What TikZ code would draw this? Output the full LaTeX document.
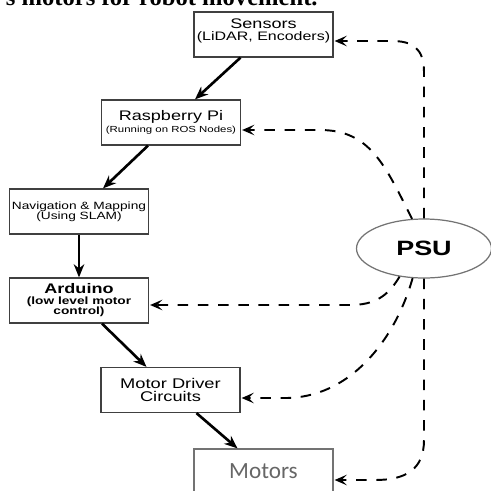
\documentclass[tikz,border=0pt]{standalone}
\usepackage{fontspec}
\setmainfont{Liberation Sans}
\newfontfamily\boxfont[FakeStretch=1.3]{Liberation Sans}
\newfontfamily\motorfont{Carlito}
\newfontfamily\capfont{Liberation Serif}
\newcommand{\subtxt}[1]{\fontsize{#1}{6}\selectfont}
\usepackage{tikz}
\usetikzlibrary{shapes}
\usetikzlibrary{positioning, arrows.meta}
\usetikzlibrary{calc}

\begin{document}
\begin{tikzpicture}[
		x=0.02cm, y=-0.02cm,
		blk/.style={rectangle, draw=black!75, line width=0.7pt, minimum width=2.78cm, minimum height=0.9cm, inner sep=1pt, align=center},
		supply/.style={ellipse, draw=black!55, line width=0.7pt, minimum width=2.7cm, minimum height=1.18cm, inner sep=0pt},
		flow/.style={line width=1.5pt, -{Stealth[length=7.5pt, width=6pt]}},
		pwr/.style={line width=1.1pt, dash pattern=on 6pt off 5.5pt, -{Stealth[length=7pt, width=6pt, inset=3pt]}},
		]
		
			\useasboundingbox (0,0) rectangle (491,491);
			\clip (0,0) rectangle (491,491);
			
			\node[font=\capfont\bfseries\fontsize{14}{16}\selectfont, anchor=base east, inner sep=0pt] (caption) at (318,5) {s motors for robot movement.};
			
			\node[blk, text depth=6pt, font=\boxfont\fontsize{7.9}{6.8}\selectfont] (sensors) at (263.5, 34.5) {Sensors\\{\subtxt{7}(LiDAR, Encoders)}};
			\node[blk, font=\boxfont\fontsize{7.9}{7.2}\selectfont] (rpi) at (171, 122.5) {Raspberry Pi\\{\subtxt{5}(Running on ROS Nodes)}};
			\node[blk, font=\boxfont\fontsize{6}{5.8}\selectfont] (nav) at (79, 211.5) {Navigation \& Mapping\\(Using SLAM)};
			\node[blk, font=\boxfont\bfseries\fontsize{7.9}{6}\selectfont] (arduino) at (79, 300.5) {Arduino\\{\subtxt{6}(low level motor}\\{\subtxt{6}control)}};
			\node[blk, font=\boxfont\fontsize{8}{5.8}\selectfont] (driver) at (170.5, 390) {Motor Driver\\Circuits};
			\node[blk, draw=black!55, text=black!60, font=\motorfont\fontsize{13.2}{14}\selectfont] (motors) at (263.5, 471.5) {Motors};
			\node[supply, font=\boxfont\bfseries\fontsize{11.8}{14}\selectfont] (psu) at (424, 248.5) {PSU};
			
			% data / control flow
			\draw[flow] ($(sensors.south)+(-23,0)$) -- ($(rpi.north)+(24,0)$);
			\draw[flow] ($(rpi.south)+(-23,0)$) -- ($(nav.north)+(24,0)$);
			\draw[flow] (nav.south) -- (arduino.north);
			\draw[flow] ($(arduino.south)+(23,0)$) -- ($(driver.north)+(-24,0)$);
			\draw[flow] ($(driver.south)+(26,0)$) -- ($(motors.north)+(-26,0)$);
			
			% power lines
			\draw[pwr] (psu.north) -- (424,72) .. controls (424,48) and (412,41) .. (392,41) -- ($(sensors.east)+(1,6.5)$);
			\draw[pwr] (psu.112) .. controls (385,165) and (370,130) .. (320,130) -- ($(rpi.east)+(1,7.5)$);
			\draw[pwr] (psu.229) .. controls (388,296) and (375,305) .. (350,305) -- ($(arduino.east)+(1,4.5)$);
			\draw[pwr] (psu.249) .. controls (395,340) and (350,398) .. (285,398) -- ($(driver.east)+(1,8)$);
			\draw[pwr] (psu.south) -- (424,440) .. controls (424,470) and (405,480) .. (375,480) -- ($(motors.east)+(1,8.5)$);
	
		\end{tikzpicture}
\end{document}
